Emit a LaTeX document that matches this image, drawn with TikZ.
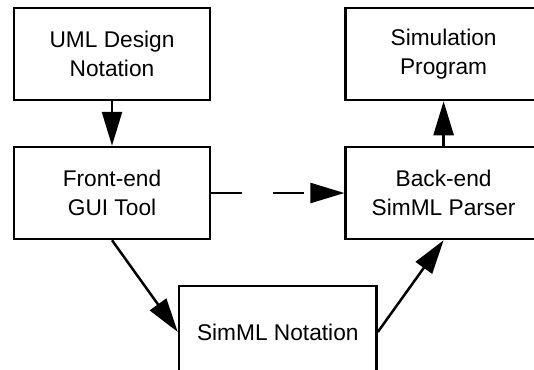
\documentclass[tikz,border=0pt]{standalone}
\usepackage{fontspec}
\setmainfont{Liberation Sans}
\usetikzlibrary{arrows.meta}

\tikzset{
  block/.style={draw, line width=2.5pt, minimum width=196pt, minimum height=92pt,
    align=center, font=\fontsize{22.7}{28.5}\selectfont},
  flow/.style={line width=2.5pt, -{Triangle[length=34pt,width=20pt]}},
}

\begin{document}
\begin{tikzpicture}[x=1pt,y=-1pt]
    \clip (0,0) rectangle (534,369);
    \node[block] (uml) at (112,54) {UML Design\\Notation};
    \node[block] (front) at (112,193) {Front-end\\GUI Tool};
    \node[block] (sim) at (443.6,54) {Simulation\\Program};
    \node[block] (back) at (443.6,193) {Back-end\\SimML Parser};
    \node[block, minimum width=197.5pt] (simml) at (277.8,332) {SimML Notation};
    \draw[flow] (uml) -- (front);
    \draw[flow] (back) -- (sim);
    \draw[flow, dash pattern=on 31pt off 31pt] (front) -- (back);
    \draw[flow] (front.south) -- (simml.west);
    \draw[flow] (simml.east) -- (back.south);
\end{tikzpicture}
\end{document}
